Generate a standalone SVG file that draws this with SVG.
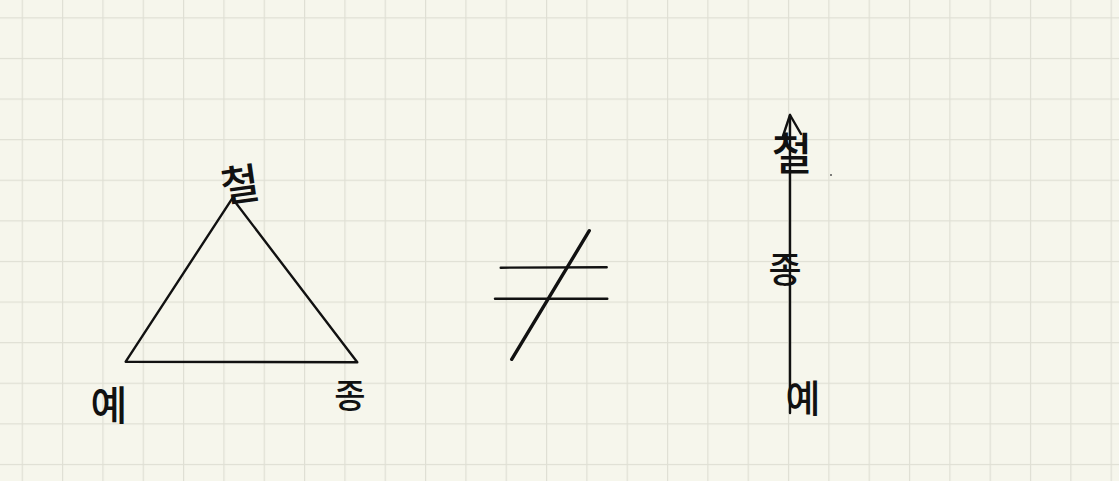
<svg xmlns="http://www.w3.org/2000/svg" width="1119" height="481" viewBox="0 0 1119 481">
<defs>
<pattern id="grid" x="21.7" y="17.3" width="40.33" height="40.6" patternUnits="userSpaceOnUse">
<rect x="-1.2" y="-1.2" width="2.4" height="43" fill="#dfdfd4"/>
<rect x="-1.2" y="-1.2" width="43" height="2.4" fill="#dfdfd4"/>
</pattern>
<style>
.ink{fill:none;stroke:#111;stroke-width:2.4;stroke-linecap:round;stroke-linejoin:round}
.thick{fill:none;stroke:#111;stroke-width:3.4;stroke-linecap:round}
.lbl{font-family:"Noto Sans CJK KR","Noto Sans",sans-serif;fill:#111;font-weight:500}
</style>
</defs>
<rect width="1119" height="481" fill="#f6f6ec"/>
<rect width="1119" height="481" fill="url(#grid)"/>
<g id="triangle">
<polygon class="ink" points="232.3,198.3 125.7,361.7 357.3,362.3"/>
</g>
<g id="label-cheol-1"><text class="lbl" x="240" y="200" font-size="42" text-anchor="middle" transform="rotate(-8 240 185)">철</text></g>
<g id="label-ye-1"><text class="lbl" x="109" y="420" font-size="40" text-anchor="middle">예</text></g>
<g id="label-jong-1"><text class="lbl" x="350" y="408" font-size="34" text-anchor="middle">종</text></g>
<g id="not-equal">
<line class="ink" x1="500.7" y1="267.7" x2="606.7" y2="267.3"/>
<line class="ink" x1="495" y1="298.7" x2="607.3" y2="298.7"/>
<line class="thick" x1="511.7" y1="359.3" x2="589.3" y2="230.7"/>
</g>
<g id="connectors">
<line class="ink" x1="790" y1="115" x2="790" y2="413"/>
<polyline class="ink" points="783,136 790,115 801,134"/>
</g>
<g id="label-cheol-2"><text class="lbl" x="792" y="170" font-size="44" text-anchor="middle">철</text></g>
<g id="label-jong-2"><text class="lbl" x="785" y="283" font-size="36" text-anchor="middle">종</text></g>
<g id="label-ye-2"><text class="lbl" x="803" y="412" font-size="38" text-anchor="middle">예</text></g>
<circle cx="831" cy="175" r="1" fill="#555"/>
</svg>
